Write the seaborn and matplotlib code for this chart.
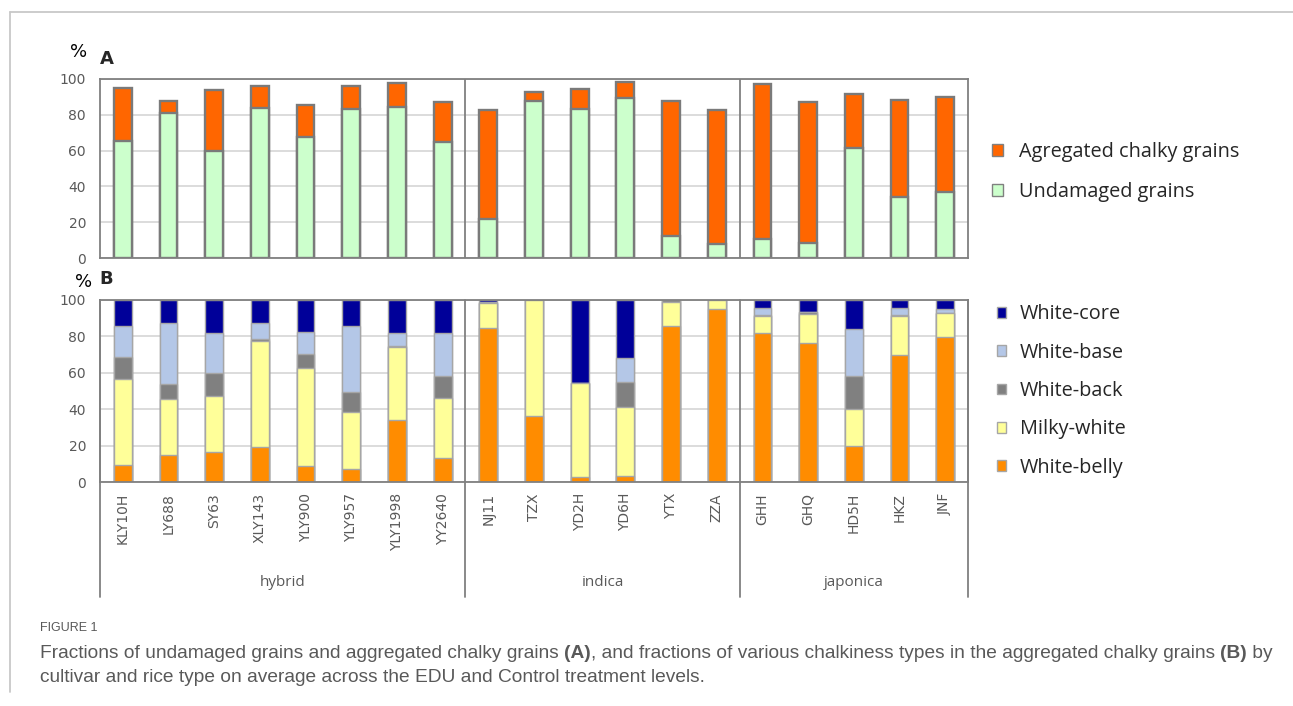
import numpy as np
import pandas as pd
import seaborn as sns
import matplotlib.pyplot as plt
from matplotlib.patches import Patch
from matplotlib.lines import Line2D

# cultivars grouped by rice type
cultivars = ['KLY10H', 'LY688', 'SY63', 'XLY143', 'YLY900', 'YLY957', 'YLY1998', 'YY2640',
             'NJ11', 'TZX', 'YD2H', 'YD6H', 'YTX', 'ZZA',
             'GHH', 'GHQ', 'HD5H', 'HKZ', 'JNF']
rice_types = ['hybrid', 'indica', 'japonica']
type_sizes = [8, 6, 5]

# panel A (%)
undamaged = [65.5, 81.0, 60.0, 83.8, 67.6, 83.4, 84.1, 64.8,
             21.8, 87.9, 83.4, 89.2, 12.3, 8.0,
             10.6, 8.5, 61.4, 34.1, 36.9]
chalky = [29.5, 6.9, 33.9, 12.1, 18.0, 12.5, 13.4, 22.3,
          61.1, 4.8, 11.0, 8.9, 75.4, 74.5,
          86.6, 78.4, 30.4, 54.3, 53.0]

# panel B (%), stacked from bottom
white_belly = [9.5, 14.9, 16.5, 19.1, 9.0, 7.3, 34.3, 13.4,
               84.8, 36.5, 2.6, 3.1, 85.7, 95.0,
               82.0, 76.5, 19.8, 69.7, 79.8]
milky_white = [47.0, 30.8, 31.0, 58.5, 53.4, 31.0, 40.0, 33.0,
               13.4, 63.5, 51.9, 38.2, 13.4, 5.0,
               9.2, 15.6, 20.2, 21.5, 12.9]
white_back = [12.1, 7.9, 12.5, 1.1, 7.9, 11.1, 0.3, 11.9,
              0.4, 0.0, 0.0, 13.4, 0.9, 0.0,
              0.5, 1.1, 18.3, 0.4, 0.1]
white_base = [17.1, 33.6, 22.0, 8.6, 12.3, 36.3, 7.4, 23.7,
              0.2, 0.0, 0.0, 13.2, 0.0, 0.0,
              3.7, 0.0, 25.6, 3.8, 2.1]
white_core = [14.3, 12.8, 18.0, 12.7, 17.4, 14.3, 18.0, 18.0,
              1.2, 0.0, 45.5, 32.1, 0.0, 0.0,
              4.6, 6.8, 16.1, 4.6, 5.1]

sns.set_style('white')
plt.rcParams['font.family'] = ['DejaVu Sans']

W, H = 1293, 706
fig = plt.figure(figsize=(W / 100, H / 100), dpi=100)
ax_a = fig.add_axes([100 / W, 1 - 258 / H, 868 / W, 179 / H])
ax_b = fig.add_axes([100 / W, 1 - 482 / H, 868 / W, 182 / H])

edge = '#808080'
grid_c = '#d9d9d9'
grey_txt = '#595959'
bounds = np.cumsum(type_sizes)[:-1] - 0.5
leg_font = {'family': 'Open Sans', 'size': 14.3}


def style_axis(ax):
    ax.set_xlim(-0.5, len(cultivars) - 0.5)
    ax.set_ylim(0, 100)
    ax.set_yticks(range(0, 101, 20))
    ax.set_yticks(range(10, 100, 20), minor=True)
    ax.yaxis.grid(True, color=grid_c, lw=1.3)
    ax.set_axisbelow(True)
    for s in ax.spines.values():
        s.set_visible(True)
        s.set_color(edge)
        s.set_linewidth(1.3)
    ax.tick_params(axis='y', which='major', length=0, labelsize=10, labelcolor=grey_txt, pad=10)
    ax.tick_params(axis='y', which='minor', direction='in', length=3, color=edge, width=1)
    ax.set_xlabel('')
    ax.set_ylabel('')


# ---- panel A
df_a = pd.DataFrame({'cultivar': cultivars, 'undamaged': undamaged, 'chalky': chalky})
df_a['total'] = df_a['undamaged'] + df_a['chalky']
sns.barplot(data=df_a, x='cultivar', y='total', color='#ff6600', saturation=1, width=0.39,
            edgecolor='#7a7a7a', linewidth=1.7, ax=ax_a)
sns.barplot(data=df_a, x='cultivar', y='undamaged', color='#ccffcc', saturation=1, width=0.39,
            edgecolor='#7a7a7a', linewidth=1.7, ax=ax_a)
style_axis(ax_a)
ax_a.set_xticks([])
for b in bounds:
    ax_a.axvline(b, color=edge, lw=1.3)

ax_a.legend(handles=[Patch(fc='#ff6600', ec=edge, label='Agregated chalky grains'),
                     Patch(fc='#ccffcc', ec=edge, label='Undamaged grains')],
            loc='center left', bbox_to_anchor=(992 / W, 1 - 172 / H), bbox_transform=fig.transFigure,
            frameon=False, handlelength=0.55, handleheight=0.55, handletextpad=0.8,
            labelspacing=0.97, borderpad=0, borderaxespad=0, prop=leg_font)

# ---- panel B
df_b = pd.DataFrame({'cultivar': cultivars, 'White-belly': white_belly, 'Milky-white': milky_white,
                     'White-back': white_back, 'White-base': white_base, 'White-core': white_core})
layers = ['White-belly', 'Milky-white', 'White-back', 'White-base', 'White-core']
colors_b = {'White-belly': '#ff8c00', 'Milky-white': '#ffff99', 'White-back': '#808080',
            'White-base': '#b4c7e7', 'White-core': '#000099'}
cum = df_b[layers].cumsum(axis=1)
for name in layers[::-1]:
    sns.barplot(x=df_b['cultivar'], y=cum[name], color=colors_b[name], saturation=1, width=0.39,
                edgecolor='#a6a6a6', linewidth=1.0, ax=ax_b)
style_axis(ax_b)
ax_b.set_xticks(range(len(cultivars)))
ax_b.set_xticklabels(cultivars, rotation=90, fontsize=10, color=grey_txt)
ax_b.tick_params(axis='x', length=0, pad=8)

xt = ax_b.get_xaxis_transform()
for b in [-0.5] + list(bounds) + [len(cultivars) - 0.5]:
    ax_b.plot([b, b], [-0.632, 1], transform=xt, color=edge, lw=1.3, clip_on=False)
start = 0
for name, n in zip(rice_types, type_sizes):
    ax_b.text(start + (n - 1) / 2, -0.55, name, transform=xt, ha='center', va='center',
              fontsize=11, color=grey_txt, family=['Open Sans', 'DejaVu Sans'])
    start += n

ax_b.legend(handles=[Patch(fc=colors_b[n], ec='#a6a6a6', label=n) for n in layers[::-1]],
            loc='center left', bbox_to_anchor=(997 / W, 1 - 391 / H), bbox_transform=fig.transFigure,
            frameon=False, handlelength=0.45, handleheight=0.45, handletextpad=0.7,
            labelspacing=0.92, borderpad=0, borderaxespad=0, prop=leg_font)

# panel letters
fig.text(79 / W, 1 - 52 / H, '%', fontsize=13, ha='center', va='center', color='black')
fig.text(100 / W, 1 - 59 / H, 'A', fontsize=13, weight='bold', ha='left', va='center')
fig.text(84 / W, 1 - 282 / H, '%', fontsize=13, ha='center', va='center', color='black')
fig.text(99 / W, 1 - 279 / H, 'B', fontsize=13, weight='bold', ha='left', va='center')

# page frame lines
fig.add_artist(Line2D([10 / W, 10 / W], [1 - 12 / H, 1 - 692 / H], transform=fig.transFigure,
                      color='#c8c8c8', lw=1.3))
fig.add_artist(Line2D([10 / W, 1], [1 - 12 / H, 1 - 12 / H], transform=fig.transFigure,
                      color='#c8c8c8', lw=1.3))

# caption
cap_font = ['Liberation Sans Narrow', 'DejaVu Sans Condensed', 'Liberation Sans']
fig.text(40 / W, 1 - 628 / H, 'FIGURE 1', fontsize=9, color=grey_txt, family=cap_font, va='center')

line1 = [('Fractions of undamaged grains and aggregated chalky grains ', 'normal'), ('(A)', 'bold'),
         (', and fractions of various chalkiness types in the aggregated chalky grains ', 'normal'),
         ('(B)', 'bold'), (' by', 'normal')]
line2 = [('cultivar and rice type on average across the EDU and Control treatment levels.', 'normal')]


def rich_line(x, y, parts, fs):
    r = fig.canvas.get_renderer()
    texts = []
    x0 = x
    for s, wt in parts:
        t = fig.text(x, y, s, fontsize=fs, color=grey_txt, family=cap_font, weight=wt, va='center')
        texts.append(t)
        x += t.get_window_extent(renderer=r).width / fig.bbox.width
    return texts, (x - x0) * W


# fit the first caption line to the width it has in the page
texts, width = rich_line(40 / W, 1 - 653 / H, line1, 13)
for t in texts:
    t.remove()
cap_fs = 13 * 1238 / width
rich_line(40 / W, 1 - 653 / H, line1, cap_fs)
rich_line(40 / W, 1 - 677 / H, line2, cap_fs)

fig.savefig('out.png', dpi=100)
